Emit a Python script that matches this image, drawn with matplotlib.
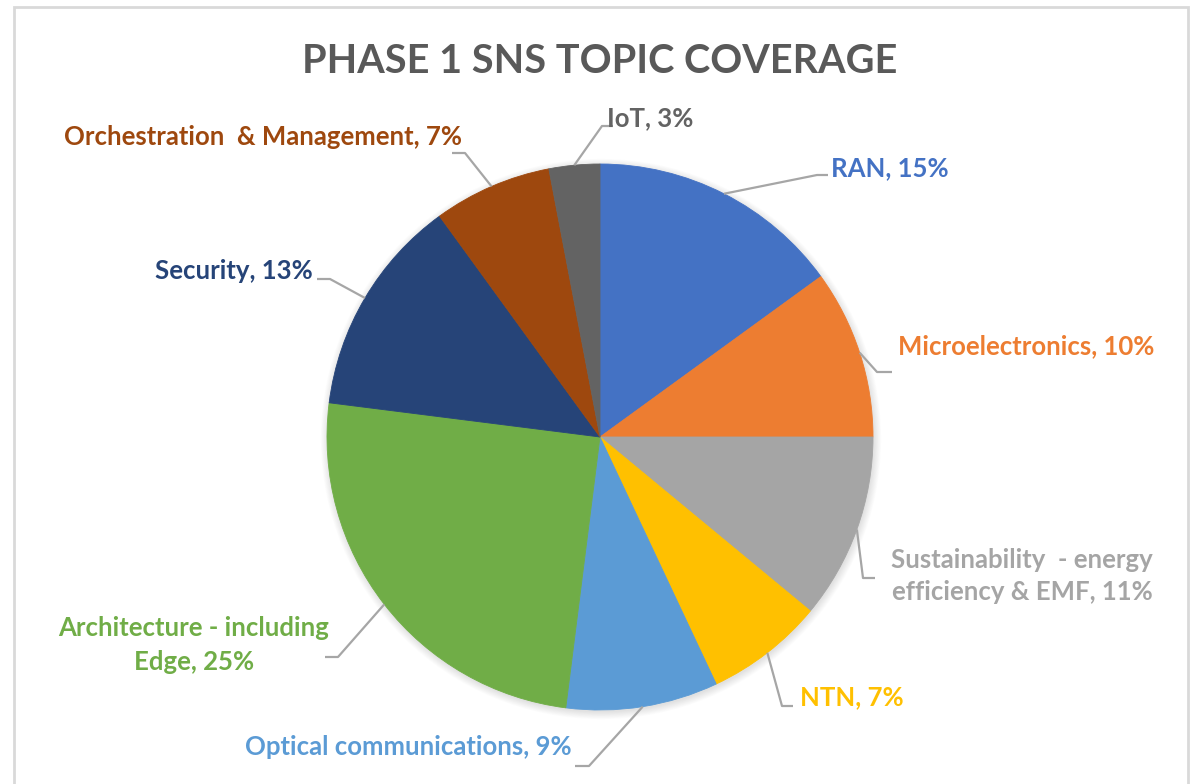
import numpy as np
import matplotlib.pyplot as plt
from matplotlib.patches import Circle, Rectangle

plt.rcParams['font.family'] = ['Lato', 'DejaVu Sans']

topics = ['RAN', 'Microelectronics', 'Sustainability  - energy\nefficiency & EMF', 'NTN',
          'Optical communications', 'Architecture - including\nEdge', 'Security',
          'Orchestration  & Management', 'IoT']
shares = [15, 10, 11, 7, 9, 25, 13, 7, 3]
colors = ['#4472C4', '#ED7D31', '#A5A5A5', '#FFC000', '#5B9BD5', '#70AD47',
          '#264478', '#9E480E', '#636363']

W, H = 1195, 784
fig = plt.figure(figsize=(W / 100, H / 100), dpi=100)
ax = fig.add_axes([0, 0, 1, 1])

def Y(y):
    return H - y

cx, cy, r = 600, Y(437), 273

# soft shadow under the pie
for k in range(10):
    ax.add_patch(Circle((cx + 1, cy - 2), r + k * 0.8, color='black', alpha=0.012, lw=0, zorder=0))

wedges, _ = ax.pie(shares, colors=colors, startangle=90, counterclock=False,
                   center=(cx, cy), radius=r,
                   wedgeprops=dict(linewidth=0.6, edgecolor='none'))
for w, c in zip(wedges, colors):
    w.set_edgecolor(c)
    w.set_zorder(2)

# label layout: (text x, text y, ha, bend point, end point)
layout = [
    (831, 168, 'left', (817, 175), (828, 175)),
    (898, 346, 'left', (877, 372), (892, 372)),
    (1022, 576, 'center', (863, 578), (875, 578)),
    (800, 697, 'left', (782, 706), (793, 706)),
    (572, 747, 'right', (589, 766), (575, 766)),
    (194, 645, 'center', (338, 657), (325, 657)),
    (313, 271, 'right', (330, 279), (317, 279)),
    (462, 137, 'right', (465, 153), (452, 153)),
    (607, 118, 'left', (602, 126), (613, 126)),
]

for w, name, val, c, (tx, ty, ha, bend, end) in zip(wedges, topics, shares, colors, layout):
    mid = np.deg2rad((w.theta1 + w.theta2) / 2)
    sx, sy = cx + r * np.cos(mid), cy + r * np.sin(mid)
    ax.plot([sx, bend[0], end[0]], [sy, Y(bend[1]), Y(end[1])],
            color='#A6A6A6', lw=1.6, zorder=3, solid_capstyle='butt')
    ax.text(tx, Y(ty), f'{name}, {val}%', color=c, fontsize=18.5, fontweight='bold',
            ha=ha, va='center', multialignment='center', linespacing=1.45, zorder=4)

ax.text(600, Y(61), 'PHASE 1 SNS TOPIC COVERAGE', color='#595959', fontsize=28.5,
        fontweight='bold', ha='center', va='center')

# chart frame
ax.add_patch(Rectangle((14, Y(800)), 1174, 793, fill=False, ec='#D9D9D9', lw=2, zorder=5))

ax.set_xlim(0, W)
ax.set_ylim(0, H)
ax.set_aspect('equal')
ax.axis('off')

fig.savefig('out.png', dpi=100, facecolor='white')
